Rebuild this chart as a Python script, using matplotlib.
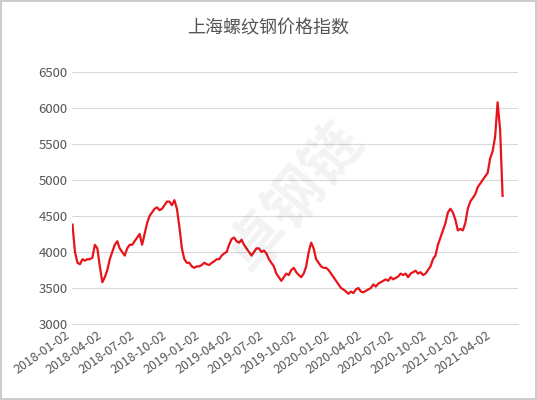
#!/usr/bin/env python3
import numpy as np
import pandas as pd
import matplotlib
matplotlib.use('Agg')
import matplotlib.pyplot as plt
import matplotlib.dates as mdates

plt.rcParams['font.family'] = ['Noto Sans CJK SC', 'DejaVu Sans']

title = '上海螺纹钢价格指数'
start_date = '2018-01-02'
# weekly index values
prices = [
	# 2018
	4380, 4000, 3850, 3830, 3900, 3880, 3900, 3900,
	3920, 4100, 4050, 3800, 3580, 3650, 3750, 3900, 4000,
	4100, 4150, 4050, 4000, 3950, 4050, 4100, 4100,
	4150, 4200, 4250, 4100, 4250, 4400, 4500, 4550, 4600,
	4620, 4580, 4600, 4650, 4700, 4700, 4650, 4720,
	4600, 4350, 4050, 3900, 3850, 3850, 3800, 3780, 3800,
	# 2019
	3800, 3820, 3850, 3830, 3820, 3850, 3870, 3900,
	3900, 3950, 3980, 4000, 4100, 4180, 4200, 4150, 4130,
	4170, 4100, 4050, 4000, 3950, 4000, 4050, 4050,
	4000, 4020, 3980, 3900, 3850, 3800, 3700, 3650, 3600,
	3650, 3700, 3680, 3750, 3780, 3720, 3680, 3650, 3700,
	3800, 4000, 4130, 4050, 3900, 3850, 3800, 3780,
	# 2020
	3780, 3750, 3700, 3650, 3600, 3550, 3500, 3480,
	3450, 3420, 3450, 3430, 3480, 3500, 3450, 3440, 3460,
	3480, 3500, 3550, 3520, 3560, 3580, 3600, 3620,
	3600, 3650, 3620, 3640, 3660, 3700, 3680, 3700, 3650,
	3700, 3720, 3740, 3700, 3720, 3680, 3700, 3750,
	3800, 3900, 3950, 4100, 4200, 4300, 4400, 4550, 4600,
	# 2021
	4550, 4450, 4300, 4320, 4300, 4400, 4600, 4700,
	4750, 4800, 4900, 4950, 5000, 5050, 5100, 5300, 5400,
	5600, 6080, 5700, 4780,
]
tick_labels = ['2018-01-02', '2018-04-02', '2018-07-02', '2018-10-02',
	'2019-01-02', '2019-04-02', '2019-07-02', '2019-10-02',
	'2020-01-02', '2020-04-02', '2020-07-02', '2020-10-02',
	'2021-01-02', '2021-04-02']

dates = pd.date_range(start_date, periods=len(prices), freq='7D')

fig = plt.figure(figsize=(5.37, 4.0), dpi=100)
fig.patch.set_edgecolor('#cccccc')
fig.patch.set_linewidth(1.5)
ax = fig.add_axes([0.135, 0.19, 0.83, 0.63])

ax.plot(dates, prices, color='#e8141b', linewidth=1.6)
ax.set_ylim(3000, 6500)
ax.set_yticks(range(3000, 6501, 500))
ax.set_xlim(pd.Timestamp('2018-01-02'), pd.Timestamp('2021-06-10'))
ticks = pd.to_datetime(tick_labels)
ax.set_xticks(ticks)
ax.set_xticklabels(tick_labels, rotation=35, ha='right', fontsize=9, color='#555555')
ax.tick_params(axis='y', labelsize=9.5, colors='#555555', length=0)
ax.tick_params(axis='x', length=0)
ax.grid(axis='y', color='#d9d9d9', linewidth=0.8)
ax.set_axisbelow(True)
for s in ['top', 'right', 'left']:
	ax.spines[s].set_visible(False)
ax.spines['bottom'].set_color('#d9d9d9')

fig.text(0.5, 0.93, title, ha='center', va='center', fontsize=13, color='#555555')
# faint watermark
ax.text(0.5, 0.5, '卓钢链', transform=ax.transAxes, fontsize=42, color='#000000',
	alpha=0.05, rotation=50, ha='center', va='center', fontweight='bold')

fig.savefig('out.png', dpi=100)
